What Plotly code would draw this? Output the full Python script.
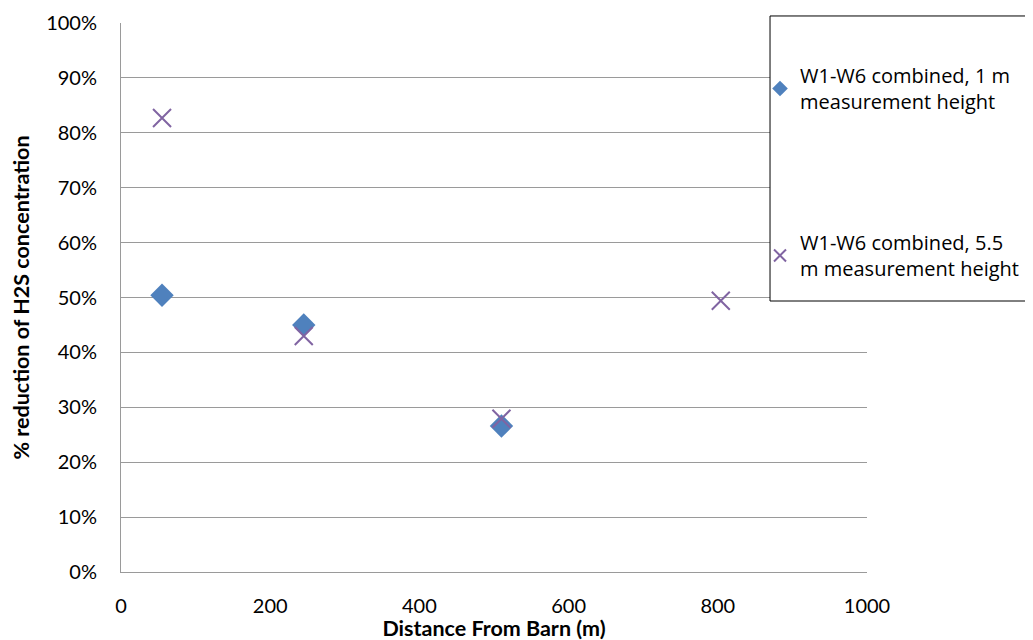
import plotly.graph_objects as go

# Data
dist_1m = [55, 245, 510]
red_1m = [0.504, 0.450, 0.266]
dist_55m = [55, 245, 510, 804]
red_55m = [0.827, 0.430, 0.279, 0.494]
name_1m = "W1-W6 combined, 1 m<br>measurement height"
name_55m = "W1-W6 combined, 5.5<br>m measurement height"
y_ticks = [i / 10 for i in range(11)]
y_labels = [f"{i*10}%" for i in range(11)]
x_ticks = [0, 200, 400, 600, 800, 1000]

fig = go.Figure()
fig.add_trace(go.Scatter(x=dist_1m, y=red_1m, mode="markers", name=name_1m,
                         legendgroup="a",
                         marker=dict(symbol="diamond", size=18, color="#4F81BD")))
fig.add_trace(go.Scatter(x=dist_55m, y=red_55m, mode="markers", name=name_55m,
                         legendgroup="b",
                         marker=dict(symbol="x-thin", size=18, color="#8064A2",
                                     line=dict(width=2, color="#8064A2"))))

tick_font = dict(family="Lato, Open Sans, sans-serif", size=20, color="#000000")

fig.update_layout(
    width=1026, height=633,
    margin=dict(l=113, r=167, t=15, b=69, autoexpand=False),
    paper_bgcolor="white", plot_bgcolor="white",
    showlegend=True,
    legend=dict(x=0.8566, y=0.94, xanchor="left", yanchor="top",
                bgcolor="rgba(0,0,0,0)", borderwidth=0,
                traceorder="grouped", tracegroupgap=112,
                font=dict(family="Open Sans, sans-serif", size=20, color="#000"),
                itemsizing="constant"),
    xaxis=dict(range=[0, 1000], tickvals=x_ticks, showgrid=False, automargin=False,
               showline=True, linecolor="#9a9a9a", linewidth=1,
               ticks="", tickfont=tick_font, zeroline=False,
               ticklabelstandoff=16,
               title=dict(text="<b>Distance From Barn (m)</b>",
                          font=dict(family="Lato, Open Sans, sans-serif", size=21.5, color="#000"),
                          standoff=8)),
    yaxis=dict(range=[0, 1.0], tickvals=y_ticks, ticktext=y_labels,
               showgrid=True, gridcolor="#9a9a9a", gridwidth=1, automargin=False,
               showline=True, linecolor="#9a9a9a", linewidth=1,
               ticks="", tickfont=tick_font, zeroline=False,
               ticklabelstandoff=19,
               title=dict(text="<b>% reduction of H2S concentration</b>",
                          font=dict(family="Lato, Open Sans, sans-serif", size=21.5, color="#000"),
                          standoff=12)),
    shapes=[dict(type="rect", xref="paper", yref="paper",
                 x0=0.870, x1=1.25, y0=0.4936, y1=1.0128,
                 line=dict(color="#000000", width=1), fillcolor="white", layer="above")],
)

fig.write_html("out.html")
